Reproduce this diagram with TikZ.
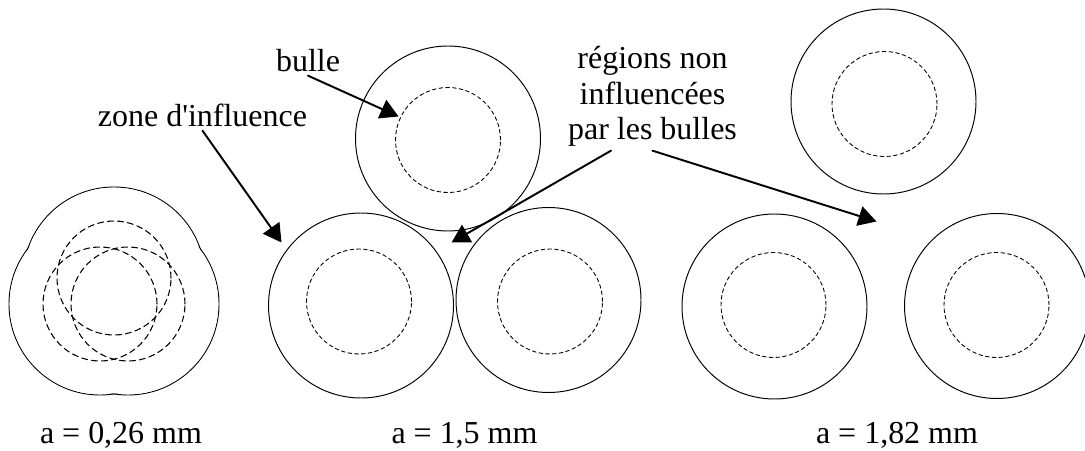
\documentclass[tikz,border=0pt]{standalone}
\usepackage{fontspec}
\setmainfont{Liberation Serif}
\usetikzlibrary{arrows.meta}
\begin{document}
\begin{tikzpicture}[line join=round, line cap=round,>={Triangle[length=0.36cm,width=0.4cm]}]
        \tikzset{every node/.style={font=\fontsize{18.2pt}{20.4pt}\selectfont, inner sep=2pt},
                 zone/.style={line width=0.55pt},
                 bulles/.style={line width=0.5pt, dash pattern=on 0.075cm off 0.06cm},
                 bullesa/.style={line width=0.6pt, dash pattern=on 0.12cm off 0.08cm},
                 fleche/.style={->, line width=1.1pt}}
        \useasboundingbox (0,0) rectangle (21.7,9);
        % a = 0,26 mm
        \foreach \p in {(2.28,3.44),(2.00,2.92),(2.56,2.92)}
        \draw[zone] \p circle (1.82);
        \foreach \p in {(2.28,3.44),(2.00,2.92),(2.56,2.92)}
        \fill[white] \p circle (1.806);
        \foreach \p in {(2.28,3.44),(2.00,2.92),(2.56,2.92)}
        \draw[bullesa] \p circle (1.14);
        % a = 1,5 mm et a = 1,82 mm
        \foreach \x/\y/\xb/\yb in {8.96/6.23/8.96/6.20, 7.22/2.89/7.18/2.97, 10.97/3.00/11.00/2.97,
                                   17.67/6.97/17.69/6.92, 15.49/2.87/15.47/2.90, 19.94/2.88/19.93/2.90}
        {
            \draw[zone] (\x,\y) circle (1.85);
            \draw[bulles] (\xb,\yb) circle (1.05);
        }
        % textes
        \node[anchor=base] (bulle) at (6.16,7.57) {bulle};
        \node[anchor=base] (zone) at (4.05,6.47) {zone d\textquotesingle influence};
        \node[anchor=base, align=center] (regions) at (13.05,6.20) {régions non\\influencées\\par les bulles};
        \node[anchor=base] (a1) at (2.42,0.14) {a = 0,26 mm};
        \node[anchor=base] (a2) at (9.29,0.14) {a = 1,5 mm};
        \node[anchor=base] (a3) at (17.94,0.14) {a = 1,82 mm};
        % fleches
        \coordinate (pbulle) at (7.97,6.67);
        \coordinate (pzone) at (5.63,4.15);
        \coordinate (preg1) at (9.03,4.15);
        \coordinate (preg2) at (17.53,4.57);
        \draw[fleche] (bulle.south) -- (pbulle);
        \draw[fleche] (zone.south) -- (pzone);
        \draw[fleche] ([xshift=-0.83cm]regions.south) -- (preg1);
        \draw[fleche] (regions.south) -- (preg2);
\end{tikzpicture}
\end{document}
